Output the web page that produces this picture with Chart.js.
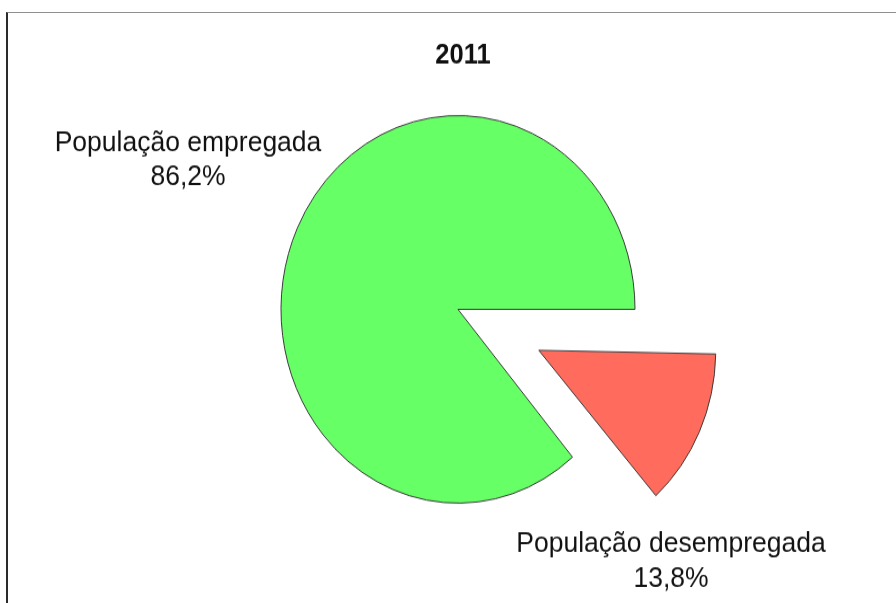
<!DOCTYPE html>
<html>
<head>
<meta charset="utf-8">
<script src="https://cdn.jsdelivr.net/npm/chart.js@4/dist/chart.umd.min.js"></script>
<style>
  html, body { margin: 0; padding: 0; background: #ffffff; overflow: hidden; }
  #frame { position: absolute; left: 6px; top: 12px; width: 900px; height: 600px;
           border-left: 2px solid #2a2a2a; border-top: 1px solid #8f8f8f; }
  #wrap { position: absolute; left: 0; top: 0; width: 896px; height: 551px;
          transform: scaleY(1.095); transform-origin: 0 0; }
</style>
</head>
<body>
<div id="frame"></div>
<div id="wrap"><canvas id="c" width="896" height="551"></canvas></div>
<script>
const chartTitle = "2011";
const categories = ["População desempregada", "População empregada"];
const values = [13.8, 86.2];
const valueLabels = ["13,8%", "86,2%"];
const sliceColors = ["#FF6C5E", "#66FF66"];

const FONT = "'Liberation Sans', Arial, sans-serif";

// Keep exploded slices at the same radius as the rest of the pie
// (Chart.js enlarges offset arcs slightly by default).
const keepRadiusPlugin = {
  id: 'keepRadius',
  beforeDatasetDraw(chart, args) {
    const meta = args.meta;
    meta.data.forEach(arc => {
      const off = (arc.options.offset || 0) / 4;
      const fix = 1 - Math.sin(Math.min(Math.PI, arc.circumference || 0));
      arc._origOuter = arc.outerRadius;
      arc.outerRadius = arc.outerRadius - off * fix;
    });
  },
  afterDatasetDraw(chart, args) {
    args.meta.data.forEach(arc => {
      if (arc._origOuter !== undefined) { arc.outerRadius = arc._origOuter; delete arc._origOuter; }
    });
  }
};

const labelPlugin = {
  id: 'labelPlugin',
  afterDraw(chart) {
    const ctx = chart.ctx;
    const cx = (chart.chartArea.left + chart.chartArea.right) / 2;
    const cy = (chart.chartArea.top + chart.chartArea.bottom) / 2;
    ctx.save();
    ctx.fillStyle = '#111111';
    ctx.textAlign = 'center';
    ctx.textBaseline = 'alphabetic';
    // title
    ctx.font = `bold 25.5px ${FONT}`;
    ctx.fillText(chartTitle, cx + 5, 58);
    // slice labels
    ctx.font = `26.5px ${FONT}`;
    const anchors = [
      { x: cx + 213, y1: cy + 221, y2: cy + 253 },   // desempregada
      { x: cx - 270, y1: cy - 145, y2: cy - 114 }    // empregada
    ];
    categories.forEach((name, i) => {
      const a = anchors[i];
      ctx.fillText(name, a.x, a.y1);
      ctx.fillText(valueLabels[i], a.x, a.y2);
    });
    ctx.restore();
  }
};

new Chart(document.getElementById('c'), {
  type: 'pie',
  data: {
    labels: categories,
    datasets: [{
      data: values,
      backgroundColor: sliceColors,
      borderColor: '#3a3a3a',
      borderWidth: 1,
      offset: [356, 0],
      hoverOffset: 0
    }]
  },
  options: {
    responsive: false,
    devicePixelRatio: 1,
    animation: false,
    rotation: 90,
    radius: 177,
    layout: { padding: { left: 20, right: 0, top: 14, bottom: 0 } },
    plugins: {
      legend: { display: false },
      title: { display: false },
      tooltip: { enabled: false }
    },
    events: []
  },
  plugins: [keepRadiusPlugin, labelPlugin]
});
</script>
</body>
</html>
